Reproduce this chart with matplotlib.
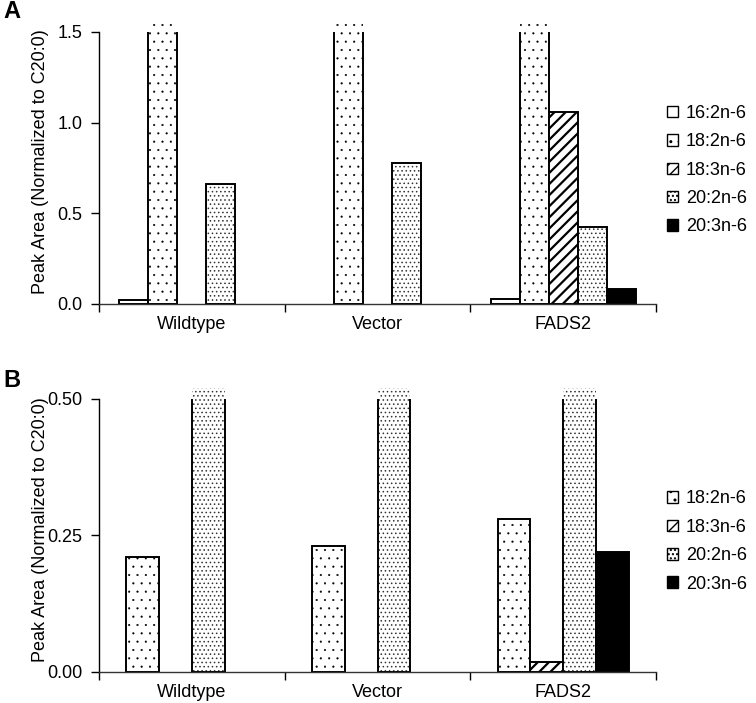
import matplotlib
matplotlib.use('Agg')
import matplotlib.pyplot as plt
import matplotlib.patches as mpatches
import numpy as np

plt.rcParams['font.family'] = ['Liberation Sans', 'DejaVu Sans']

groups = ['Wildtype', 'Vector', 'FADS2']

# panel A (values above 1.5 are off scale)
a_labels = ['16:2n-6', '18:2n-6', '18:3n-6', '20:2n-6', '20:3n-6']
a_16_2 = [0.02, 0.0, 0.025]
a_18_2 = [3.0, 3.0, 3.0]
a_18_3 = [0.0, 0.0, 1.06]
a_20_2 = [0.66, 0.78, 0.425]
a_20_3 = [0.0, 0.0, 0.08]

# panel B (values above 0.5 are off scale)
b_labels = ['18:2n-6', '18:3n-6', '20:2n-6', '20:3n-6']
b_18_2 = [0.21, 0.23, 0.28]
b_18_3 = [0.0, 0.0, 0.018]
b_20_2 = [1.0, 1.0, 1.0]
b_20_3 = [0.0, 0.0, 0.22]

styles = {
    '16:2n-6': dict(fc='white', hatch=None, hc='black', hlw=1.0),
    '18:2n-6': dict(fc='white', hatch='..', hc='black', hlw=0.3),
    '18:3n-6': dict(fc='white', hatch='///', hc='black', hlw=1.6),
    '20:2n-6': dict(fc='white', hatch='....', hc='#333333', hlw=0.6),
    '20:3n-6': dict(fc='black', hatch=None, hc='black', hlw=1.0),
}


def draw_panel(ax, labels, series, width, ytop, ymax, yticks, yfmt):
    x = np.arange(len(groups)) + 0.5
    n = len(series)
    clip = mpatches.Rectangle((-1, -1), 5, 1 + ytop, transform=ax.transData)
    for i, (lab, vals) in enumerate(zip(labels, series)):
        st = styles[lab]
        xs = x + (i - (n - 1) / 2) * width
        with plt.rc_context({'hatch.linewidth': st['hlw']}):
            fills = ax.bar(xs, vals, width, color=st['fc'], hatch=st['hatch'],
                           edgecolor=st['hc'], linewidth=0)
        for p in fills:
            if hasattr(p, 'set_hatch_linewidth'):
                p.set_hatch_linewidth(st['hlw'])
        edges = ax.bar(xs, vals, width, fill=False, edgecolor='black', linewidth=1.4)
        for p, v in zip(edges, vals):
            p.set_clip_path(clip)
            if v == 0:
                p.set_visible(False)
    ax.set_xlim(0, len(groups))
    ax.set_ylim(0, ymax)
    ax.spines['top'].set_visible(False)
    ax.spines['right'].set_visible(False)
    ax.spines['left'].set_bounds(0, ytop)
    ax.spines['left'].set_linewidth(1.0)
    ax.spines['bottom'].set_linewidth(1.0)
    ax.spines['bottom'].set_color('#333333')
    ax.set_xticks(np.arange(len(groups) + 1))
    ax.set_xticklabels([])
    ax.set_xticks(x, minor=True)
    ax.set_xticklabels(groups, minor=True, fontsize=13)
    ax.tick_params(axis='x', which='major', length=6, width=1, direction='out')
    ax.tick_params(axis='x', which='minor', length=0, pad=9)
    ax.set_yticks(yticks)
    ax.set_yticklabels([yfmt % t for t in yticks], fontsize=13)
    ax.tick_params(axis='y', length=6, width=1, direction='out', pad=6)
    ax.set_ylabel('Peak Area (Normalized to C20:0)', fontsize=13)
    ax.yaxis.set_label_coords(-0.09, 0.5)


def add_legend(fig, labels, y):
    handles = []
    for lab in labels:
        st = styles[lab]
        with plt.rc_context({'hatch.linewidth': min(st['hlw'], 1.0)}):
            handles.append(mpatches.Patch(facecolor=st['fc'], hatch=st['hatch'],
                                          edgecolor='black', linewidth=1.0, label=lab))
    fig.legend(handles=handles, loc='center left', bbox_to_anchor=(0.882, y),
               frameon=False, fontsize=13, handlelength=0.6, handleheight=0.6,
               handletextpad=0.45, labelspacing=0.63, borderpad=0, borderaxespad=0)


fig = plt.figure(figsize=(7.56, 7.03), dpi=100)

ax_a = fig.add_axes([0.131, 0.5676, 0.737, 0.404])
draw_panel(ax_a, a_labels, [a_16_2, a_18_2, a_18_3, a_20_2, a_20_3], 0.156,
           1.5, 1.566, [0.0, 0.5, 1.0, 1.5], '%.1f')
add_legend(fig, a_labels, 0.758)

ax_b = fig.add_axes([0.131, 0.0441, 0.737, 0.404])
draw_panel(ax_b, b_labels, [b_18_2, b_18_3, b_20_2, b_20_3], 0.177,
           0.5, 0.52, [0.0, 0.25, 0.5], '%.2f')
add_legend(fig, b_labels, 0.2297)

fig.text(0.004, 1.0, 'A', fontsize=17, fontweight='bold', va='top')
fig.text(0.004, 0.4758, 'B', fontsize=17, fontweight='bold', va='top')

plt.savefig('out.png', dpi=100)
